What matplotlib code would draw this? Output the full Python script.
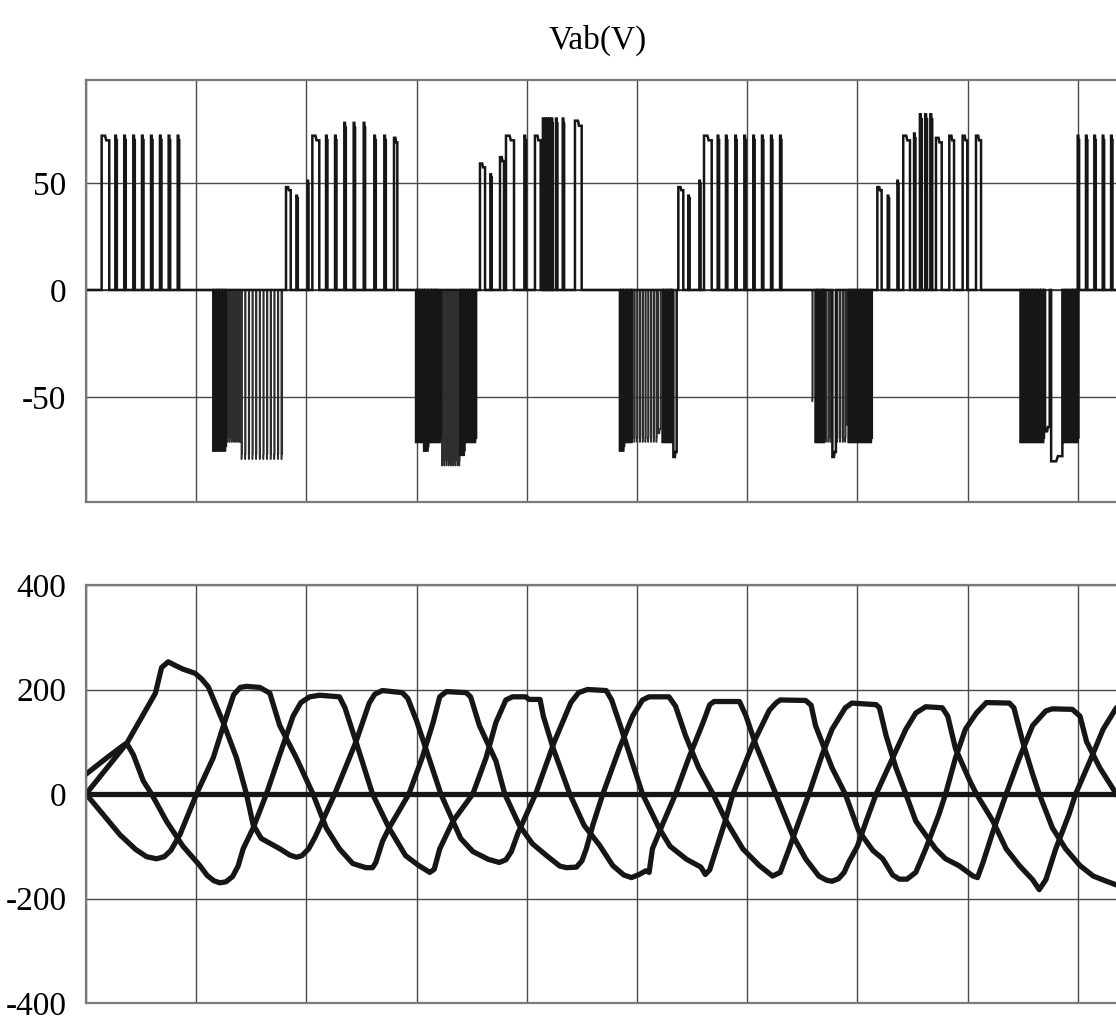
import numpy as np
import matplotlib.pyplot as plt

plt.rcParams['font.family'] = ['Liberation Serif', 'DejaVu Serif']
plt.rcParams['axes.unicode_minus'] = False

# time axis in grid divisions (one vertical grid cell = 1)
# Vab pulses: (switch on, switch off, level in V)
pos1 = [(0.142, 0.211, 72), (0.266, 0.280, 72), (0.347, 0.361, 72), (0.429, 0.443, 72),
        (0.508, 0.522, 72), (0.590, 0.604, 72), (0.671, 0.685, 72), (0.750, 0.764, 72),
        (0.832, 0.846, 72)]
neg1 = [(1.155, 1.168, -75), (1.180, 1.193, -75), (1.205, 1.218, -75), (1.230, 1.243, -75),
        (1.255, 1.270, -75)]
neg1_fine = [(1.280, 1.288, -71), (1.300, 1.308, -71), (1.320, 1.328, -71), (1.340, 1.348, -71),
             (1.360, 1.368, -71), (1.380, 1.388, -71), (1.396, 1.404, -71), (1.410, 1.416, -79),
             (1.443, 1.449, -79), (1.476, 1.482, -79), (1.509, 1.515, -79), (1.542, 1.548, -79),
             (1.575, 1.581, -79), (1.608, 1.614, -79), (1.641, 1.647, -79), (1.674, 1.680, -79),
             (1.707, 1.713, -79), (1.740, 1.746, -79), (1.772, 1.781, -79)]
pos2 = [(1.815, 1.858, 48), (1.909, 1.922, 44), (2.011, 2.019, 51), (2.054, 2.117, 72),
        (2.178, 2.191, 72), (2.260, 2.273, 72), (2.344, 2.358, 78), (2.429, 2.442, 78),
        (2.520, 2.533, 78), (2.616, 2.630, 72), (2.707, 2.721, 72), (2.795, 2.825, 71)]
neg2 = [(2.995, 3.008, -71), (3.020, 3.033, -71), (3.045, 3.058, -71), (3.068, 3.081, -75),
        (3.093, 3.106, -75), (3.125, 3.138, -71), (3.150, 3.163, -71), (3.175, 3.188, -71),
        (3.200, 3.222, -71), (3.397, 3.410, -77), (3.422, 3.435, -77), (3.447, 3.460, -71),
        (3.472, 3.485, -71), (3.497, 3.510, -71), (3.522, 3.540, -71)]
neg2_fine = [(3.230, 3.236, -82), (3.250, 3.256, -82), (3.270, 3.276, -82), (3.290, 3.296, -82),
             (3.310, 3.316, -82), (3.330, 3.336, -82), (3.350, 3.356, -82), (3.370, 3.376, -82),
             (3.386, 3.392, -82)]
pos3 = [(3.575, 3.621, 59), (3.669, 3.682, 54), (3.757, 3.793, 62), (3.811, 3.884, 72),
        (3.978, 3.993, 72), (4.074, 4.126, 72), (4.146, 4.156, 80), (4.166, 4.176, 80),
        (4.186, 4.196, 80), (4.206, 4.216, 80), (4.226, 4.236, 80), (4.265, 4.278, 80),
        (4.326, 4.339, 80), (4.437, 4.498, 79)]
neg3 = [(4.845, 4.858, -75), (4.870, 4.883, -75), (4.895, 4.908, -71), (4.920, 4.933, -71),
        (4.945, 4.958, -71), (5.232, 5.245, -71), (5.257, 5.270, -71), (5.282, 5.295, -71),
        (5.305, 5.318, -71), (5.330, 5.360, -78)]
neg3_fine = [(4.975, 4.981, -71), (5.000, 5.006, -71), (5.025, 5.031, -71), (5.050, 5.056, -71),
             (5.075, 5.081, -71), (5.100, 5.106, -71), (5.125, 5.131, -71), (5.150, 5.156, -71),
             (5.175, 5.181, -71), (5.195, 5.215, -67)]
pos4 = [(5.375, 5.420, 48), (5.465, 5.478, 44), (5.566, 5.577, 51), (5.608, 5.678, 72),
        (5.732, 5.745, 72), (5.807, 5.820, 72), (5.892, 5.905, 72), (5.974, 5.987, 72),
        (6.055, 6.068, 72), (6.134, 6.147, 72), (6.216, 6.229, 72), (6.298, 6.311, 72)]
neg4 = [(6.620, 6.633, -71), (6.645, 6.658, -71), (6.670, 6.683, -71), (6.690, 6.700, -71),
        (6.773, 6.805, -78), (6.920, 6.933, -71), (6.945, 6.958, -71), (6.970, 6.983, -71),
        (6.995, 7.008, -71), (7.020, 7.033, -71), (7.045, 7.058, -71), (7.070, 7.083, -71),
        (7.095, 7.108, -71), (7.115, 7.131, -71)]
neg4_fine = [(6.590, 6.596, -52), (6.712, 6.718, -71), (6.735, 6.741, -71), (6.755, 6.761, -71),
             (6.815, 6.821, -71), (6.840, 6.846, -71), (6.865, 6.871, -71), (6.888, 6.894, -71),
             (6.904, 6.912, -63)]
pos5 = [(7.181, 7.220, 48), (7.275, 7.288, 44), (7.363, 7.374, 51), (7.416, 7.477, 72),
        (7.514, 7.527, 73), (7.567, 7.584, 82), (7.615, 7.632, 82), (7.662, 7.679, 82),
        (7.713, 7.765, 71), (7.834, 7.877, 72), (7.955, 7.997, 72), (8.076, 8.122, 72)]
neg5 = [(8.480, 8.493, -71), (8.505, 8.518, -71), (8.530, 8.543, -71), (8.555, 8.568, -71),
        (8.580, 8.593, -71), (8.605, 8.618, -71), (8.630, 8.643, -71), (8.655, 8.668, -71),
        (8.680, 8.693, -71), (8.703, 8.745, -66), (8.758, 8.860, -80), (8.870, 8.883, -71),
        (8.895, 8.908, -71), (8.920, 8.933, -71), (8.945, 8.958, -71), (8.970, 8.983, -71),
        (8.990, 9.006, -71)]
pos6 = [(8.999, 9.012, 72), (9.074, 9.087, 72), (9.150, 9.163, 72), (9.226, 9.239, 72),
        (9.302, 9.315, 72), (9.379, 9.392, 72)]

# three phase voltages (t, V)
va = [(0.00, 0), (0.37, 97), (0.595, 180), (0.63, 193), (0.686, 242), (0.746, 253), (0.82, 245),
      (0.88, 239), (0.99, 231), (1.05, 220), (1.11, 205), (1.245, 137), (1.366, 69), (1.456, 0),
      (1.517, -59), (1.59, -85), (1.76, -105), (1.85, -117), (1.91, -121), (1.96, -118),
      (2.02, -105), (2.08, -82), (2.16, -45), (2.257, 0), (2.45, 100), (2.57, 174), (2.62, 191),
      (2.69, 198), (2.87, 194), (2.92, 183), (3.00, 140), (3.22, 0), (3.40, -85), (3.51, -110),
      (3.65, -125), (3.75, -131), (3.81, -126), (3.86, -110), (3.92, -75), (4.08, 0), (4.25, 100),
      (4.40, 175), (4.47, 194), (4.55, 200), (4.72, 198), (4.77, 180), (4.85, 130), (5.05, 0),
      (5.20, -65), (5.30, -100), (5.45, -125), (5.58, -140), (5.62, -154), (5.66, -145),
      (5.72, -105), (5.80, -52), (5.87, 0), (6.05, 95), (6.20, 160), (6.26, 174), (6.30, 180),
      (6.53, 179), (6.58, 170), (6.62, 131), (6.77, 50), (6.89, 0), (7.01, -70), (7.14, -108),
      (7.23, -124), (7.32, -155), (7.38, -163), (7.45, -163), (7.53, -150), (7.62, -105),
      (7.74, -39), (7.80, 0), (7.89, 69), (7.98, 124), (8.08, 155), (8.17, 175), (8.38, 174),
      (8.42, 165), (8.50, 100), (8.59, 38), (8.65, 0), (8.77, -65), (8.89, -105), (9.02, -137),
      (9.14, -157), (9.26, -167), (9.35, -174), (9.50, -178)]
vb = [(0.00, 0), (0.127, -32), (0.308, -78), (0.45, -106), (0.55, -120), (0.64, -124),
      (0.71, -120), (0.77, -108), (0.852, -78), (1.003, 0), (1.154, 69), (1.275, 149),
      (1.34, 190), (1.40, 204), (1.456, 206), (1.577, 204), (1.668, 193), (1.758, 131),
      (1.909, 69), (2.06, 0), (2.18, -65), (2.30, -105), (2.42, -133), (2.54, -141),
      (2.60, -141), (2.63, -131), (2.69, -91), (2.75, -65), (2.93, 0), (3.05, 69), (3.15, 137),
      (3.21, 186), (3.27, 196), (3.45, 194), (3.49, 186), (3.57, 131), (3.72, 63), (3.80, 0),
      (3.93, -59), (4.05, -95), (4.18, -118), (4.30, -138), (4.36, -141), (4.45, -140),
      (4.50, -128), (4.54, -105), (4.60, -59), (4.69, 0), (4.84, 87), (4.96, 149), (5.05, 180),
      (5.11, 186), (5.29, 186), (5.35, 168), (5.44, 112), (5.56, 50), (5.69, 0), (5.81, -52),
      (5.96, -105), (6.11, -137), (6.23, -157), (6.30, -150), (6.38, -105), (6.47, -52),
      (6.56, 0), (6.68, 75), (6.77, 124), (6.89, 165), (6.95, 174), (7.17, 171), (7.20, 165),
      (7.26, 112), (7.35, 50), (7.44, 0), (7.53, -52), (7.71, -105), (7.80, -124), (7.92, -137),
      (8.05, -157), (8.09, -160), (8.14, -131), (8.23, -72), (8.35, 0), (8.47, 69), (8.59, 131),
      (8.71, 159), (8.77, 163), (8.95, 162), (9.02, 149), (9.08, 100), (9.20, 50), (9.35, 0),
      (9.50, -60)]
vc = [(0.00, 38), (0.187, 69), (0.338, 93), (0.37, 97), (0.43, 75), (0.52, 25), (0.595, 0),
      (0.73, -52), (0.88, -100), (1.033, -137), (1.10, -156), (1.16, -166), (1.215, -170),
      (1.27, -168), (1.33, -158), (1.38, -138), (1.426, -105), (1.517, -65), (1.637, 0),
      (1.758, 75), (1.879, 149), (1.95, 175), (2.03, 186), (2.12, 189), (2.30, 186), (2.35, 165),
      (2.45, 100), (2.60, 0), (2.75, -65), (2.90, -118), (3.02, -137), (3.12, -150), (3.16, -144),
      (3.21, -105), (3.33, -52), (3.51, 0), (3.63, 69), (3.72, 137), (3.81, 180), (3.87, 186),
      (3.99, 186), (4.02, 181), (4.12, 181), (4.15, 149), (4.24, 87), (4.39, 0), (4.52, -60),
      (4.66, -98), (4.78, -137), (4.88, -155), (4.95, -160), (5.02, -154), (5.08, -147),
      (5.11, -150), (5.14, -105), (5.23, -59), (5.35, 0), (5.47, 69), (5.60, 137), (5.66, 171),
      (5.70, 177), (5.93, 177), (5.99, 149), (6.08, 93), (6.26, 0), (6.41, -78), (6.53, -124),
      (6.65, -157), (6.72, -165), (6.77, -167), (6.83, -162), (6.88, -150), (6.92, -131),
      (7.00, -100), (7.08, -52), (7.17, 0), (7.32, 69), (7.44, 124), (7.53, 155), (7.62, 167),
      (7.77, 165), (7.82, 149), (7.89, 87), (8.02, 25), (8.08, 0), (8.23, -52), (8.35, -105),
      (8.47, -137), (8.59, -164), (8.65, -183), (8.71, -164), (8.80, -105), (8.92, -39),
      (8.98, 0), (9.11, 63), (9.23, 124), (9.35, 165), (9.45, 185)]
v0_t = [0, 10]
v0 = [0, 0]

T_END = 10
INK = '#161616'
GRID = '#4a4a4a'


def pulse_trace(pulses, t_end):
    t, v = [0.0], [0.0]
    for on, off, lvl in sorted(pulses):
        w = off - on
        t += [on, on, on + 0.45 * w, on + 0.6 * w, off, off]
        v += [0, lvl, lvl, lvl * 0.97, lvl * 0.97, 0]
    t.append(t_end)
    v.append(0)
    return t, v


def style(ax, ylim, yticks):
    ax.set_xlim(0, T_END)
    ax.set_ylim(*ylim)
    ax.set_xticks(np.arange(0, T_END + 1))
    ax.set_yticks(yticks)
    ax.tick_params(axis='x', length=0, labelbottom=False)
    ax.tick_params(axis='y', length=0, pad=14, labelsize=24)
    ax.grid(True, color=GRID, lw=1.0)
    for s in ax.spines.values():
        s.set_color('#7a7a7a')
        s.set_linewidth(1.6)
    ax.spines['right'].set_visible(False)


fig = plt.figure(figsize=(11.16, 10.23), dpi=100)
ax1 = fig.add_axes([86 / 1116, 521 / 1023, 1102 / 1116, 422 / 1023])
ax2 = fig.add_axes([86 / 1116, 20 / 1023, 1102 / 1116, 418 / 1023])

# fine (narrow) switching pulses first, heavy pulse train on top
fine = neg1_fine + neg2_fine + neg3_fine + neg4_fine
t, v = pulse_trace(fine, T_END)
ax1.plot(t, v, color='#2e2e2e', lw=1.1)
heavy = pos1 + neg1 + pos2 + neg2 + pos3 + neg3 + pos4 + neg4 + pos5 + neg5 + pos6
t, v = pulse_trace(heavy, T_END)
ax1.plot(t, v, color=INK, lw=1.8, solid_joinstyle='miter')
style(ax1, (-99, 98), [-50, 0, 50])

for ph in (va, vb, vc):
    tt, vv = zip(*ph)
    ax2.plot(tt, vv, color=INK, lw=3.8, solid_joinstyle='round', solid_capstyle='round')
ax2.plot(v0_t, v0, color=INK, lw=3.8)
style(ax2, (-400, 400), [-400, -200, 0, 200, 400])

fig.text(598 / 1116, 1 - 40 / 1023, 'Vab(V)', ha='center', va='center', fontsize=24)

fig.savefig('out.png', dpi=100)
